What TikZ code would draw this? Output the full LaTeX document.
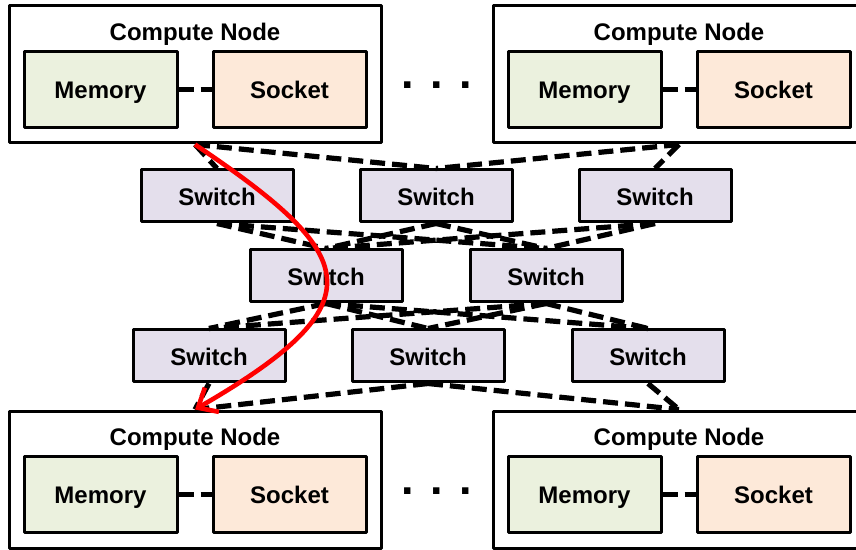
\documentclass[tikz,border=0pt]{standalone}
\usepackage{fontspec}
\setmainfont{Liberation Sans}
\usetikzlibrary{arrows.meta}
\definecolor{memfill}{RGB}{235,241,222}
\definecolor{sockfill}{RGB}{253,233,217}
\definecolor{swfill}{RGB}{228,223,236}
\begin{document}
\begin{tikzpicture}[x=0.5pt, y=-0.5pt, font=\bfseries\fontsize{12}{14}\selectfont, line join=round,
		txt/.style={text height=11.6pt, text depth=2.4pt},
		box/.style={draw, line width=1.5pt, inner sep=0pt, txt},
		cnode/.style={box, minimum width=186pt, minimum height=68.5pt},
		part/.style={box, minimum width=76.5pt, minimum height=38pt},
		switch/.style={box, fill=swfill, minimum width=76pt, minimum height=26pt},
		link/.style={line width=2.6pt, dash pattern=on 7.5pt off 3.5pt},
		route/.style={red, line width=2.3pt, -{Straight Barb[length=8pt,width=14pt]}},
		dots/.style={font=\bfseries\fontsize{22.5}{24}\selectfont, anchor=base}]
	\useasboundingbox (0,0) rectangle (856,550);
	\clip (0,0) rectangle (856,550);
	% compute nodes: memory + socket
	\foreach \n/\x/\y in {tl/195/74.5, tr/679/74.5, bl/195/479.5, br/679/479.5}{
		\node[cnode] (cn\n) at (\x,\y) {};
		\node[txt] (ttl\n) at (\x,\y-43.5) {Compute Node};
		\node[part, fill=memfill] (mem\n) at (\x-94.5,\y+15) {Memory};
		\node[part, fill=sockfill] (sock\n) at (\x+94.5,\y+15) {Socket};
		\draw[link] (mem\n) -- (sock\n);
	}
	\node[dots] (dotsT) at (437,89) {. . .};
	\node[dots] (dotsB) at (437,494) {. . .};
	% switch network
	\foreach \n/\x/\y in {a/217/196, b/436/196, c/655/196, d/326/276, e/546/276, f/209/356, g/428/356, h/648/356}
		\node[switch] (sw\n) at (\x,\y) {Switch};
	\foreach \s/\t in {cntl/swa, cntl/swb, cntr/swb, cntr/swc}
		\draw[link] (\s.south) -- (\t.north);
	\foreach \s in {a,b,c} \foreach \t in {d,e}
		\draw[link] (sw\s.south) -- (sw\t.north);
	\foreach \s in {d,e} \foreach \t in {f,g,h}
		\draw[link] (sw\s.south) -- (sw\t.north);
	\foreach \s/\t in {swf/cnbl, swg/cnbl, swg/cnbr, swh/cnbr}
		\draw[link] (\s.south) -- (\t.north);
	% path taken through the network
	\draw[route] (cntl.south) .. controls (359,255) and (381,302) .. (cnbl.north);
\end{tikzpicture}
\end{document}
